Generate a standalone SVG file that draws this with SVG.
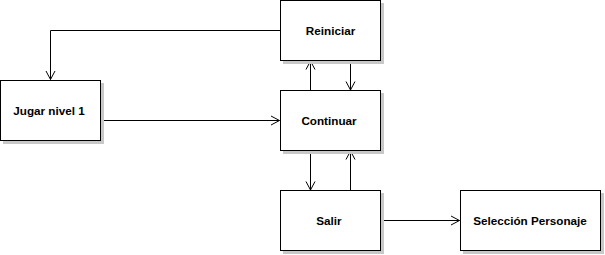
<svg xmlns="http://www.w3.org/2000/svg" width="605" height="255" viewBox="0 0 605 255">
  <style>
    .shadow { fill: #c8c8c8; }
    .box { fill: #ffffff; stroke: #000000; stroke-width: 1; }
    .label { font-family: "Liberation Sans", Arial, sans-serif; font-size: 11.7px; font-weight: bold; fill: #000000; text-anchor: middle; dominant-baseline: central; }
    .edge { fill: none; stroke: #000000; stroke-width: 1; }
  </style>
  <defs>
    <marker id="open" viewBox="-10 -6 12 12" markerWidth="12" markerHeight="12" refX="0" refY="0" orient="auto" markerUnits="userSpaceOnUse">
      <path d="M -8.5,-4.5 L 0,0 L -8.5,4.5" fill="none" stroke="#000000" stroke-width="1"/>
    </marker>
  </defs>
  <rect width="605" height="255" fill="#ffffff"/>

  <g id="connectors">
    <path class="edge" d="M 280.5,30.5 L 50.5,30.5 L 50.5,79.5" marker-end="url(#open)"/>
    <path class="edge" d="M 100.5,120.5 L 279.5,120.5" marker-end="url(#open)"/>
    <path class="edge" d="M 310.5,90.5 L 310.5,61" marker-end="url(#open)"/>
    <path class="edge" d="M 350.5,60.5 L 350.5,90" marker-end="url(#open)"/>
    <path class="edge" d="M 310.5,150.5 L 310.5,190" marker-end="url(#open)"/>
    <path class="edge" d="M 350.5,190.5 L 350.5,151" marker-end="url(#open)"/>
    <path class="edge" d="M 380.5,220.5 L 459.5,220.5" marker-end="url(#open)"/>
  </g>

  <g id="reiniciar">
    <rect class="shadow" x="283" y="3" width="101" height="61"/>
    <rect class="box" x="280.5" y="0.5" width="100" height="60"/>
    <text class="label" x="330.5" y="30.5">Reiniciar</text>
  </g>

  <g id="jugar-nivel-1">
    <rect class="shadow" x="3" y="83" width="101" height="61"/>
    <rect class="box" x="0.5" y="80.5" width="100" height="60"/>
    <text class="label" x="49" y="110.5">Jugar nivel 1</text>
  </g>

  <g id="continuar">
    <rect class="shadow" x="283" y="93" width="101" height="61"/>
    <rect class="box" x="280.5" y="90.5" width="100" height="60"/>
    <text class="label" x="329" y="120.5">Continuar</text>
  </g>

  <g id="salir">
    <rect class="shadow" x="283" y="193" width="101" height="61"/>
    <rect class="box" x="280.5" y="190.5" width="100" height="60"/>
    <text class="label" x="329" y="220.5">Salir</text>
  </g>

  <g id="seleccion-personaje">
    <rect class="shadow" x="463" y="193" width="141" height="61"/>
    <rect class="box" x="460.5" y="190.5" width="140" height="60"/>
    <text class="label" x="530" y="220.5">Selección Personaje</text>
  </g>
</svg>
